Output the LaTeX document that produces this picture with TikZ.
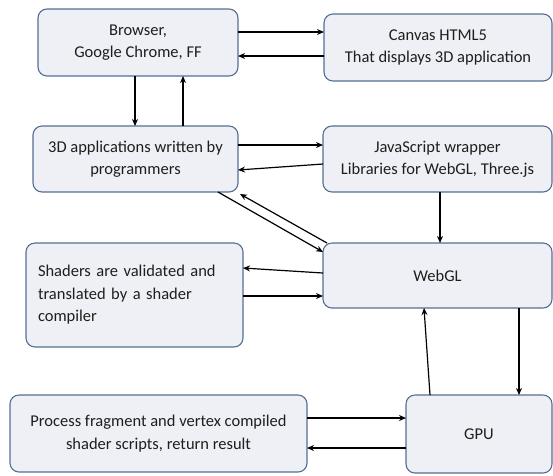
\documentclass[tikz,border=0pt]{standalone}
\usepackage{fontspec}
\setmainfont{Carlito}
\usetikzlibrary{arrows.meta,calc}
\definecolor{boxfill}{RGB}{239,240,245}
\definecolor{boxline}{RGB}{84,110,148}
\definecolor{txt}{RGB}{30,30,30}
\tikzset{
  box/.style={draw=boxline, fill=boxfill, line width=1.1pt, rounded corners=9pt,
    inner sep=0pt, outer sep=0pt, align=center, text=txt,
    font=\fontsize{16.5}{22.5}\selectfont},
  arr/.style={-{Stealth[length=7pt,width=6pt]}, line width=1.2pt, black}
}
\begin{document}
\begin{tikzpicture}[x=1pt,y=-1pt]
\useasboundingbox (0,0) rectangle (553,475);
\node[box, minimum width=200pt, minimum height=67pt] (b) at (138,42.5) {Browser,\\Google Chrome, FF};
\node[box, minimum width=228pt, minimum height=67pt] (c) at (438,47.5) {Canvas HTML5\\That displays 3D application};
\node[box, minimum width=205pt, minimum height=66pt] (a) at (135.5,159) {3D applications written by\\programmers};
\node[box, minimum width=229pt, minimum height=66pt] (js) at (437.5,159) {JavaScript wrapper\\Libraries for WebGL, Three.js};
\node[box, minimum width=229pt, minimum height=65pt] (w) at (437.5,275.5) {WebGL};
\node[box, minimum width=217pt, minimum height=104pt, text width=193pt, align=left] (s) at (134.5,295)
  {Shaders are validated and\\translated by a shader\\compiler\\[4pt]};
\node[box, minimum width=297pt, minimum height=77pt] (p) at (158.5,433.5) {Process fragment and vertex compiled\\shader scripts, return result};
\node[box, minimum width=146pt, minimum height=78pt] (g) at (479,434) {GPU};

\draw[arr] ([yshift=10.5pt]b.east) -- ([yshift=10.5pt]b.east -| c.west);
\draw[arr] ([yshift=-8.5pt]c.west) -- ([yshift=-8.5pt]c.west -| b.east);
\draw[arr] ([xshift=-3pt]b.south) -- ([xshift=-3pt]b.south |- a.north);
\draw[arr] ([xshift=47.5pt]a.north) -- ([xshift=47.5pt]a.north |- b.south);
\draw[arr] ([yshift=14pt]a.east) -- ([yshift=14pt]a.east -| js.west);
\draw[arr] ([yshift=-5pt]js.west) -- ([yshift=-11pt]a.east);
\draw[arr] ([xshift=82.5pt]a.south) -- ([yshift=23.5pt]w.west);
\draw[arr] ([xshift=4pt]w.north west) -- ([xshift=2pt,yshift=-2pt]a.south east);
\draw[arr] ([xshift=2.5pt]js.south) -- ([xshift=2.5pt]js.south |- w.north);
\draw[arr] ([yshift=2.5pt]w.west) -- ([yshift=27pt]s.east);
\draw[arr] ([yshift=-1pt]s.east) -- ([yshift=-1pt]s.east -| w.west);
\draw[arr] ([xshift=-49pt]g.north) -- ([xshift=-13.5pt]w.south);
\draw[arr] ([xshift=81.5pt]w.south) -- ([xshift=81.5pt]w.south |- g.north);
\draw[arr] ([yshift=15.5pt]p.east) -- ([yshift=15.5pt]p.east -| g.west);
\draw[arr] ([yshift=-14pt]g.west) -- ([yshift=-14pt]g.west -| p.east);
\end{tikzpicture}
\end{document}
